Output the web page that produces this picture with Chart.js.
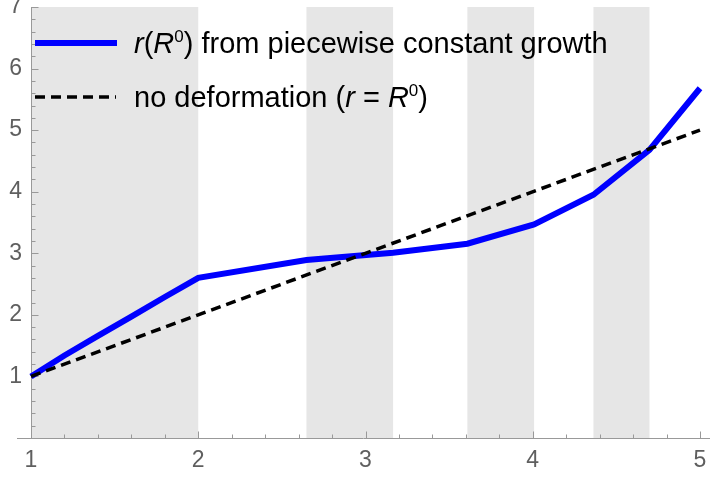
<!DOCTYPE html>
<html>
<head>
<meta charset="utf-8">
<script src="https://cdn.jsdelivr.net/npm/chart.js@4"></script>
<style>
  html, body { margin: 0; padding: 0; background: #fff; }
  #wrap { position: relative; width: 710px; height: 479px; }
  #legend { position: absolute; left: 0; top: 0; width: 710px; height: 130px; pointer-events: none;
            font-family: "Liberation Sans", Arial, sans-serif; font-size: 29px; color: #000; }
  #legend .row { position: absolute; left: 134px; height: 34px; line-height: 34px; white-space: nowrap; }
  #legend sup { font-size: 17px; vertical-align: 11px; line-height: 0; }
  #legend svg { position: absolute; left: 0; top: 0; }
</style>
</head>
<body>
<div id="wrap">
  <canvas id="chart" width="710" height="479"></canvas>
  <div id="legend">
    <svg width="140" height="130">
      <line x1="35" y1="43" x2="117" y2="43" stroke="#0000ff" stroke-width="6"/>
      <line x1="35" y1="97" x2="116" y2="97" stroke="#000" stroke-width="3.5" stroke-dasharray="10 6"/>
    </svg>
    <div class="row" style="top:26px"><i>r</i>(<i>R</i><sup>0</sup>) from piecewise constant growth</div>
    <div class="row" style="top:80px">no deformation (<i>r</i> = <i>R</i><sup>0</sup>)</div>
  </div>
</div>
<script>
// reference radius R0 and deformed radius r
const r0Values = [1, 1.2, 1.4, 1.6, 1.8, 2, 2.647, 3.165, 3.609, 4.008, 4.363, 4.698, 5];
const rValues = [1, 1.34, 1.66, 1.97, 2.29, 2.6, 2.89, 3.01, 3.155, 3.47, 3.95, 4.68, 5.68];
// identity line
const idX = [1, 5];
const idY = [1, 5];
// growth regions (grey bands)
const bandStart = [1, 2.647, 3.609, 4.363];
const bandEnd = [2, 3.165, 4.008, 4.698];
// ticks
const xTicks = [1, 2, 3, 4, 5];
const yTicks = [1, 2, 3, 4, 5, 6, 7];
const xMinorStep = 0.2;
const yMinorStep = 0.2;

const AXIS_COLOR = "#999999";

const bandsAndAxes = {
  id: "bandsAndAxes",
  beforeDatasetsDraw(chart) {
    const { ctx, chartArea: a, scales: { x, y } } = chart;
    ctx.save();
    ctx.fillStyle = "#e6e6e6";
    bandStart.forEach((s, i) => {
      const x0 = x.getPixelForValue(s);
      const x1 = x.getPixelForValue(bandEnd[i]);
      ctx.fillRect(x0, a.top, x1 - x0, a.bottom - a.top);
    });

    ctx.strokeStyle = AXIS_COLOR;
    ctx.lineWidth = 1;
    const ax = Math.round(x.getPixelForValue(x.min)) + 0.5;
    const ay = Math.round(y.getPixelForValue(y.min)) + 0.5;
    ctx.beginPath();
    ctx.moveTo(17, ay);
    ctx.lineTo(chart.width, ay);
    ctx.moveTo(ax, ay);
    ctx.lineTo(ax, a.top);
    ctx.stroke();

    // x ticks (pointing up, inside)
    ctx.beginPath();
    for (let v = x.min; v <= x.max + 1e-9; v += xMinorStep) {
      const px = Math.round(x.getPixelForValue(v)) + 0.5;
      const major = xTicks.some(t => Math.abs(t - v) < 1e-6);
      ctx.moveTo(px, ay);
      ctx.lineTo(px, ay - (major ? 7 : 4));
    }
    // y ticks (pointing right, inside)
    for (let v = y.min + yMinorStep; v <= y.max + 1e-9; v += yMinorStep) {
      const py = Math.round(y.getPixelForValue(v)) + 0.5;
      const major = yTicks.some(t => Math.abs(t - v) < 1e-6);
      ctx.moveTo(ax, py);
      ctx.lineTo(ax + (major ? 7 : 4), py);
    }
    ctx.stroke();
    ctx.restore();
  }
};

const tickFont = { family: "'Liberation Sans', Arial, sans-serif", size: 23 };

new Chart(document.getElementById("chart"), {
  type: "line",
  data: {
    datasets: [
      {
        label: "no deformation",
        data: idX.map((v, i) => ({ x: v, y: idY[i] })),
        borderColor: "#000000",
        borderWidth: 3.5,
        borderDash: [10, 6],
        pointRadius: 0,
        clip: false
      },
      {
        label: "r(R0) from piecewise constant growth",
        data: r0Values.map((v, i) => ({ x: v, y: rValues[i] })),
        borderColor: "#0000ff",
        borderWidth: 6,
        borderJoinStyle: "miter",
        pointRadius: 0,
        clip: false
      }
    ]
  },
  options: {
    responsive: false,
    animation: false,
    events: [],
    layout: { padding: { top: 7, right: 10, left: 0, bottom: 0 } },
    plugins: { legend: { display: false }, tooltip: { enabled: false } },
    scales: {
      x: {
        type: "linear",
        min: 1,
        max: 5,
        grid: { display: false, drawTicks: false },
        border: { display: false },
        afterBuildTicks: s => { s.ticks = xTicks.map(v => ({ value: v })); },
        afterFit: s => { s.height = 41; s.paddingLeft = 0; s.paddingRight = 0; },
        ticks: { color: "#5f5f5f", font: tickFont, padding: 9, maxRotation: 0 }
      },
      y: {
        type: "linear",
        min: 0,
        max: 7,
        grid: { display: false, drawTicks: false },
        border: { display: false },
        afterBuildTicks: s => { s.ticks = yTicks.map(v => ({ value: v })); },
        afterFit: s => { s.width = 31; s.paddingTop = 0; s.paddingBottom = 0; },
        ticks: { color: "#5f5f5f", font: tickFont, padding: 9 }
      }
    }
  },
  plugins: [bandsAndAxes]
});
</script>
</body>
</html>
